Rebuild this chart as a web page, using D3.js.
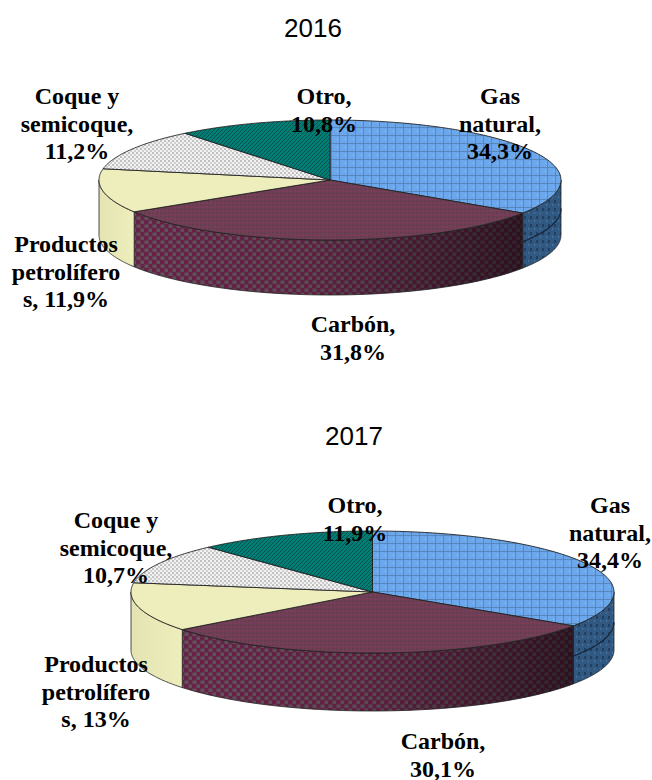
<!DOCTYPE html>
<html>
<head>
<meta charset="utf-8">
<script src="https://cdn.jsdelivr.net/npm/d3@7"></script>
<style>
  html, body { margin: 0; padding: 0; background: #fff; }
  svg { display: block; }
  .title { font-family: "Liberation Sans", Arial, sans-serif; font-size: 26px; fill: #000; }
  .label { font-family: "Liberation Serif", "Times New Roman", serif; font-weight: bold; font-size: 24px; fill: #000; }
</style>
</head>
<body>
<svg id="chart" width="652" height="780"></svg>
<script>
// Share of each energy source, by year
const categories = ["Gas natural", "Carbón", "Productos petrolíferos", "Coque y semicoque", "Otro"];
const years = ["2016", "2017"];
const values2016 = [34.3, 31.8, 11.9, 11.2, 10.8];
const values2017 = [34.4, 30.1, 13, 10.7, 11.9];
const valueText2016 = ["34,3%", "31,8%", "11,9%", "11,2%", "10,8%"];
const valueText2017 = ["34,4%", "30,1%", "13%", "10,7%", "11,9%"];
// How each category name breaks across lines; the value follows on the next line
const nameLines = [["Gas", "natural,"], ["Carbón,"], ["Productos", "petrolífero"], ["Coque y", "semicoque,"], ["Otro,"]];

// Layout of the two pies and their labels
const layouts = [
  { cx: 330, cy: 180, rx: 231, ry: 60, depth: 55, titleX: 313, titleY: 37,
    labelPos: [[500, 104], [353, 332], [66, 252], [77, 104], [324, 104]] },
  { cx: 372.5, cy: 592, rx: 241.5, ry: 61, depth: 58, titleX: 354, titleY: 445,
    labelPos: [[610, 513], [443, 749], [96, 672], [116, 528], [355, 513]] }
];

const svg = d3.select("#chart");
const defs = svg.append("defs");

function pattern(id, w, h, bg, draw) {
  const p = defs.append("pattern").attr("id", id).attr("patternUnits", "userSpaceOnUse")
    .attr("width", w).attr("height", h);
  p.append("rect").attr("width", w).attr("height", h).attr("fill", bg);
  draw(p);
}

// Fill textures for the pie tops and walls
pattern("gasTop", 8, 8, "#6ba7ea", p => {
  p.append("path").attr("d", "M0 7.5H8M3.5 0V8").attr("stroke", "#4f7bab").attr("stroke-width", 0.7);
  p.append("circle").attr("cx", 1.5).attr("cy", 3).attr("r", 0.7).attr("fill", "#8fbdf0");
});
pattern("gasWall", 6, 8, "#305880", p => {
  p.append("path").attr("d", "M3 0V3").attr("stroke", "#15263d").attr("stroke-width", 1);
  p.append("circle").attr("cx", 0.5).attr("cy", 5).attr("r", 0.7).attr("fill", "#5684b4");
});
pattern("coalTop", 4, 4, "#703f55", p => {
  p.append("circle").attr("cx", 1).attr("cy", 1).attr("r", 0.9).attr("fill", "#5c3f4c");
  p.append("circle").attr("cx", 3).attr("cy", 3).attr("r", 0.9).attr("fill", "#803a5a");
});
pattern("coalWall", 8, 8, "#6a2149", p => {
  p.append("rect").attr("x", 0.5).attr("y", 0.5).attr("width", 4).attr("height", 3.4).attr("fill", "#5c5658");
  p.append("rect").attr("x", 4.5).attr("y", 4.5).attr("width", 4).attr("height", 3.4).attr("fill", "#5c5658");
});
pattern("coqueTop", 4, 4, "#f2f2f2", p => {
  p.append("circle").attr("cx", 1).attr("cy", 1).attr("r", 0.8).attr("fill", "#808080");
  p.append("circle").attr("cx", 3).attr("cy", 3).attr("r", 0.8).attr("fill", "#a0a0a0");
});
pattern("otherTop", 4, 4, "#007f76", p => {
  p.append("path").attr("d", "M-1 1L1 -1M0 4L4 0M3 5L5 3").attr("stroke", "#0a4f4c").attr("stroke-width", 1);
});

// Wall shading: left side lit, right side darker
const shade = defs.append("linearGradient").attr("id", "wallShade");
shade.append("stop").attr("offset", "0").attr("stop-color", "#000").attr("stop-opacity", 0);
shade.append("stop").attr("offset", "0.45").attr("stop-color", "#000").attr("stop-opacity", 0.08);
shade.append("stop").attr("offset", "1").attr("stop-color", "#000").attr("stop-opacity", 0.55);
const fuelWall = defs.append("linearGradient").attr("id", "fuelWall");
fuelWall.append("stop").attr("offset", "0").attr("stop-color", "#e4e4b2");
fuelWall.append("stop").attr("offset", "1").attr("stop-color", "#eeeebd");

const topFills = ["url(#gasTop)", "url(#coalTop)", "#eeeebd", "url(#coqueTop)", "url(#otherTop)"];
const wallFills = ["url(#gasWall)", "url(#coalWall)", "url(#fuelWall)", "none", "none"];

function drawPie(values, valueText, layout, year) {
  const g = svg.append("g");
  const x = d3.scaleLinear().domain([-1, 1]).range([layout.cx - layout.rx, layout.cx + layout.rx]);
  const y = d3.scaleLinear().domain([1, -1]).range([layout.cy - layout.ry, layout.cy + layout.ry]);
  const arcs = d3.pie().sort(null)(values);

  const rim = (a0, a1, dy) => d3.range(0, 61).map(i => {
    const a = a0 + (a1 - a0) * i / 60;
    return [x(Math.sin(a)), y(Math.cos(a)) + dy];
  });
  const line = d3.line();

  // Front walls: only the part of each slice facing the viewer
  arcs.forEach((d, i) => {
    const a0 = Math.max(d.startAngle, Math.PI / 2);
    const a1 = Math.min(d.endAngle, 3 * Math.PI / 2);
    if (a1 <= a0) return;
    const outline = line(rim(a0, a1, 0).concat(rim(a0, a1, layout.depth).reverse())) + "Z";
    g.append("path").attr("d", outline).attr("fill", wallFills[i]);
    if (i === 1) {
      g.append("path").attr("d", outline).attr("fill", "url(#wallShade)");
    }
    g.append("path").attr("d", outline).attr("fill", "none").attr("stroke", "#222").attr("stroke-width", 0.8);
    if (i === 0) {
      g.append("path").attr("d", line(rim(a0, a1, layout.depth * 0.52)))
        .attr("fill", "none").attr("stroke", "#14243a").attr("stroke-width", 1.2);
    }
  });

  // Slice tops
  arcs.forEach((d, i) => {
    const pts = [[layout.cx, layout.cy]].concat(rim(d.startAngle, d.endAngle, 0));
    g.append("path").attr("d", line(pts) + "Z").attr("fill", topFills[i])
      .attr("stroke", "#222").attr("stroke-width", 0.9).attr("stroke-linejoin", "round");
  });

  svg.append("text").attr("class", "title").attr("x", layout.titleX).attr("y", layout.titleY)
    .attr("text-anchor", "middle").text(year);

  // Labels: broken name lines, with the value on the line after them
  categories.forEach((name, i) => {
    let lines = nameLines[i].concat([valueText[i]]);
    if (i === 2) lines = ["Productos", "petrolífero", "s, " + valueText[i]];
    const t = svg.append("text").attr("class", "label").attr("text-anchor", "middle");
    t.selectAll("tspan").data(lines).join("tspan")
      .attr("x", layout.labelPos[i][0])
      .attr("y", (_, k) => layout.labelPos[i][1] + k * 27.5)
      .text(s => s);
  });
}

drawPie(values2016, valueText2016, layouts[0], years[0]);
drawPie(values2017, valueText2017, layouts[1], years[1]);
</script>
</body>
</html>
